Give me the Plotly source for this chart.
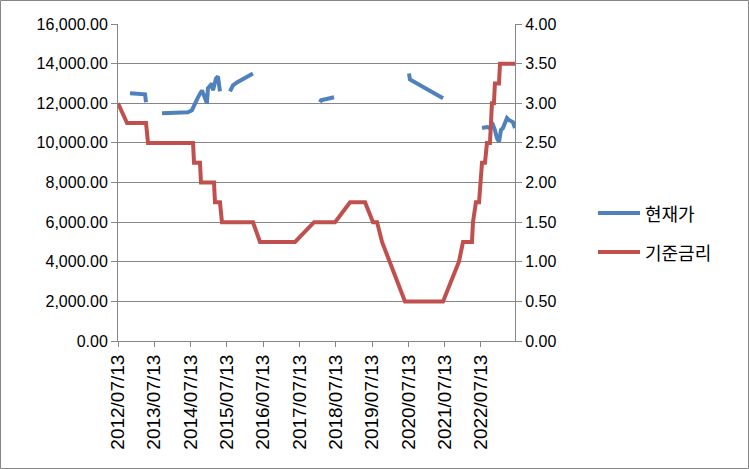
import plotly.graph_objects as go

rate_dates = ["2012-07-13","2012-10-12","2013-04-21","2013-05-11","2014-08-07","2014-08-17","2014-10-16","2014-10-26",
              "2015-03-06","2015-03-16","2015-05-05","2015-05-25","2016-04-01","2016-06-11","2017-05-30","2017-12-07",
              "2018-07-06","2018-12-04","2019-05-04","2019-07-23","2019-09-02","2019-10-22","2020-06-09","2021-06-27",
              "2021-09-15","2021-12-04","2022-01-14","2022-04-14","2022-04-24","2022-05-24","2022-06-24","2022-07-24",
              "2022-08-23","2022-09-12","2022-10-12","2022-11-01","2022-11-21","2022-12-01","2023-01-11","2023-01-21",
              "2023-06-21"]
rate_values = [3.0,2.75,2.75,2.5,2.5,2.25,2.25,2.0,2.0,1.75,
               1.75,1.5,1.5,1.25,1.25,1.5,1.5,1.75,1.75,1.5,
               1.5,1.25,0.5,0.5,0.75,1.0,1.25,1.25,1.5,1.75,
               1.75,2.25,2.25,2.5,2.5,3.0,3.0,3.25,3.25,3.5,
               3.5]

price_dates = ["2012-11-11","2013-04-11","2013-04-21","2013-06-01",
               "2013-09-29","2014-06-17","2014-07-27","2014-08-27","2014-09-26","2014-11-05","2014-12-05","2014-12-25",
               "2015-01-04","2015-02-14","2015-02-24","2015-03-26","2015-04-15","2015-05-05","2015-06-15",
               "2015-08-14","2015-09-13","2015-10-23","2016-04-01","2017-01-01",
               "2018-02-05","2018-02-15","2018-06-26","2019-06-01",
               "2020-07-19","2020-07-29","2021-06-27","2022-01-01",
               "2022-07-24","2022-09-12","2022-10-12","2022-11-12","2022-12-01","2022-12-21","2023-01-11","2023-01-31",
               "2023-02-20","2023-03-12","2023-04-01","2023-04-21","2023-05-21","2023-05-31","2023-06-21"]
price_values = [12500,12450,12050,None,
                11500,11550,11650,12000,12300,12650,12300,12000,
                12750,13000,12650,13250,13350,12600,None,
                12600,12900,13050,13500,None,
                12050,12150,12300,None,
                13500,13200,12250,None,
                10750,10800,10750,10900,10650,10250,10050,10650,
                10750,11050,11250,11150,11100,11050,10750]

left_ticks = [0,2000,4000,6000,8000,10000,12000,14000,16000]
right_ticks = [0,0.5,1.0,1.5,2.0,2.5,3.0,3.5,4.0]

series_names = ["현재가", "기준금리"]
series_colors = ["#4F81BD", "#C0504D"]

GRAY = "#868686"
FONT = "Liberation Sans"

fig = go.Figure()
fig.add_trace(go.Scatter(x=price_dates, y=price_values, mode="lines", name=series_names[0],
                         line=dict(color=series_colors[0], width=4), connectgaps=False, yaxis="y"))
fig.add_trace(go.Scatter(x=rate_dates, y=rate_values, mode="lines", name=series_names[1],
                         line=dict(color=series_colors[1], width=4), yaxis="y2"))

W, H = 749, 469
L, R, T, B = 118, 234, 24, 128
pw, ph = W - L - R, H - T - B

def px(x):
    return (x - L) / pw

def py(y):
    return (H - B - y) / ph

shapes = [dict(type="rect", xref="paper", yref="paper",
               x0=px(0.5), x1=px(W - 0.5), y0=py(H - 0.5), y1=py(0.5),
               line=dict(color=GRAY, width=1), layer="below")]
annotations = []
legend_rows = [213, 252]
for name, color, yrow in zip(series_names, series_colors, legend_rows):
    shapes.append(dict(type="line", xref="paper", yref="paper",
                       x0=px(598), x1=px(640), y0=py(yrow), y1=py(yrow),
                       line=dict(color=color, width=4)))
    annotations.append(dict(xref="paper", yref="paper", x=px(643), y=py(yrow),
                            xanchor="left", yanchor="middle", showarrow=False, text=name,
                            font=dict(family="Noto Sans CJK KR", size=18, color="black")))

fig.update_layout(
    width=W, height=H,
    margin=dict(l=L, r=R, t=T, b=B),
    paper_bgcolor="white", plot_bgcolor="white",
    font=dict(family=FONT, size=16, color="black"),
    showlegend=False,
    xaxis=dict(type="date", range=["2012-07-13", "2023-06-21"],
               tick0="2012-07-13", dtick="M12", tickformat="%Y/%m/%d", tickangle=-90,
               showgrid=False, showline=True, linecolor=GRAY, linewidth=1,
               ticks="outside", ticklen=5, tickcolor=GRAY,
               tickfont=dict(family=FONT, size=19), zeroline=False),
    yaxis=dict(range=[0, 16000], tickvals=left_ticks, tickformat=",.2f",
               showgrid=True, gridcolor=GRAY, gridwidth=1,
               showline=True, linecolor=GRAY, ticks="outside", ticklen=6, tickcolor=GRAY,
               zeroline=False, tickfont=dict(family=FONT, size=16)),
    yaxis2=dict(range=[0, 4], tickvals=right_ticks, tickformat=".2f", overlaying="y", side="right",
                showgrid=False, showline=True, linecolor=GRAY, ticks="outside", ticklen=6, tickcolor=GRAY,
                zeroline=False, tickfont=dict(family=FONT, size=16)),
    shapes=shapes,
    annotations=annotations,
)

fig.write_html("out.html")
